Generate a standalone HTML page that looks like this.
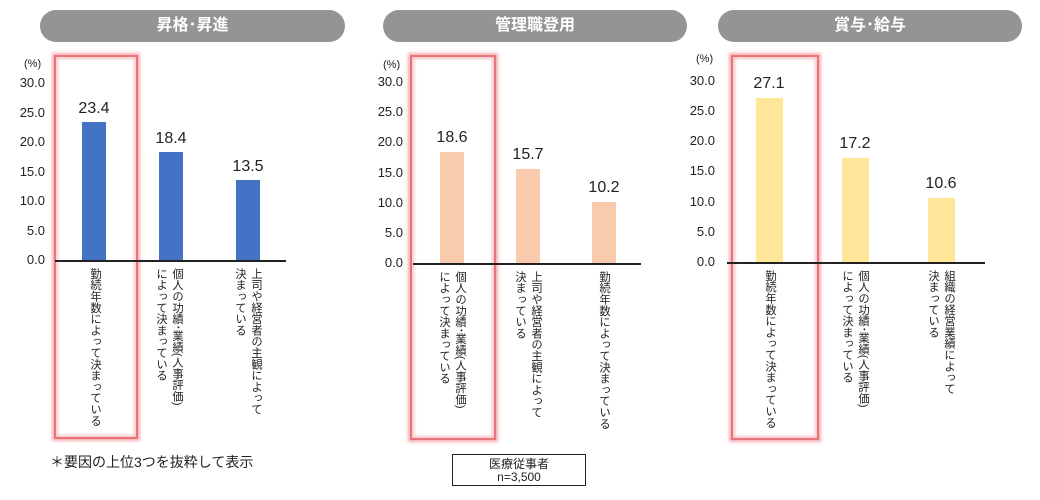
<!DOCTYPE html>
<html><head><meta charset="utf-8"><style>
body{margin:0;width:1040px;height:500px;background:#fff;position:relative;overflow:hidden;font-family:"Liberation Sans","Noto Sans CJK JP",sans-serif;color:#222}
.a{position:absolute}
.pill{position:absolute;height:32px;border-radius:16px;background:#949494;color:#fff;font-size:16px;font-weight:bold;text-align:center;line-height:32px}
.red{position:absolute;border:2px solid #e8737a;box-shadow:0 0 3px 2px rgba(240,140,145,.7),inset 0 0 3px 2px rgba(240,140,145,.5)}
.tk{position:absolute;font-size:13px;text-align:right;width:40px;line-height:14px}
.ax{position:absolute;height:2px;background:#222}
.bar{position:absolute}
.val{position:absolute;font-size:16px;width:60px;text-align:center}
.vt{position:absolute;writing-mode:vertical-rl;font-size:11.3px;line-height:16px;transform:translateX(-50%);white-space:nowrap}
</style></head><body>
<!-- Panel 1 -->
<div class="pill" style="left:40px;top:10px;width:305px">昇格･昇進</div>
<div class="red" style="left:54px;top:55px;width:80px;height:380px"></div>
<div class="a" style="left:24px;top:58px;font-size:11px">(%)</div>
<div class="tk" style="left:5px;top:76px">30.0</div>
<div class="tk" style="left:5px;top:106px">25.0</div>
<div class="tk" style="left:5px;top:135px">20.0</div>
<div class="tk" style="left:5px;top:165px">15.0</div>
<div class="tk" style="left:5px;top:194px">10.0</div>
<div class="tk" style="left:5px;top:224px">5.0</div>
<div class="tk" style="left:5px;top:253px">0.0</div>
<div class="bar" style="left:82px;top:122px;width:24px;height:138px;background:#4472c4"></div>
<div class="bar" style="left:159px;top:152px;width:24px;height:108px;background:#4472c4"></div>
<div class="bar" style="left:236px;top:180px;width:24px;height:80px;background:#4472c4"></div>
<div class="ax" style="left:55px;top:260px;width:231px"></div>
<div class="val" style="left:64px;top:100px">23.4</div>
<div class="val" style="left:141px;top:130px">18.4</div>
<div class="val" style="left:218px;top:158px">13.5</div>
<div class="vt" style="left:95px;top:268px">勤続年数によって決まっている</div>
<div class="vt" style="left:169px;top:268px">個人の功績･業績(人事評価)<br>によって決まっている</div>
<div class="vt" style="left:248px;top:268px">上司や経営者の主観によって<br>決まっている</div>
<div class="a" style="left:50px;top:452px;font-size:14px">＊要因の上位3つを抜粋して表示</div>
<!-- Panel 2 -->
<div class="pill" style="left:383px;top:10px;width:304px">管理職登用</div>
<div class="red" style="left:410px;top:55px;width:82px;height:381px"></div>
<div class="a" style="left:383px;top:59px;font-size:11px">(%)</div>
<div class="tk" style="left:363px;top:75px">30.0</div>
<div class="tk" style="left:363px;top:105px">25.0</div>
<div class="tk" style="left:363px;top:135px">20.0</div>
<div class="tk" style="left:363px;top:166px">15.0</div>
<div class="tk" style="left:363px;top:196px">10.0</div>
<div class="tk" style="left:363px;top:226px">5.0</div>
<div class="tk" style="left:363px;top:256px">0.0</div>
<div class="bar" style="left:440px;top:152px;width:24px;height:111px;background:#f8cbad"></div>
<div class="bar" style="left:516px;top:169px;width:24px;height:94px;background:#f8cbad"></div>
<div class="bar" style="left:592px;top:202px;width:24px;height:61px;background:#f8cbad"></div>
<div class="ax" style="left:413px;top:263px;width:228px"></div>
<div class="val" style="left:422px;top:129px">18.6</div>
<div class="val" style="left:498px;top:146px">15.7</div>
<div class="val" style="left:574px;top:179px">10.2</div>
<div class="vt" style="left:452px;top:271px">個人の功績･業績(人事評価)<br>によって決まっている</div>
<div class="vt" style="left:528px;top:271px">上司や経営者の主観によって<br>決まっている</div>
<div class="vt" style="left:604px;top:271px">勤続年数によって決まっている</div>
<div class="a" style="left:452px;top:454px;width:134px;height:32px;border:1px solid #222;font-size:12px;text-align:center;line-height:13px;padding-top:3px;box-sizing:border-box">医療従事者<br>n=3,500</div>
<!-- Panel 3 -->
<div class="pill" style="left:718px;top:10px;width:304px">賞与･給与</div>
<div class="red" style="left:731px;top:55px;width:84px;height:381px"></div>
<div class="a" style="left:696px;top:53px;font-size:11px">(%)</div>
<div class="tk" style="left:675px;top:74px">30.0</div>
<div class="tk" style="left:675px;top:104px">25.0</div>
<div class="tk" style="left:675px;top:134px">20.0</div>
<div class="tk" style="left:675px;top:164px">15.0</div>
<div class="tk" style="left:675px;top:195px">10.0</div>
<div class="tk" style="left:675px;top:225px">5.0</div>
<div class="tk" style="left:675px;top:255px">0.0</div>
<div class="bar" style="left:756px;top:98px;width:27px;height:164px;background:#ffe699"></div>
<div class="bar" style="left:842px;top:158px;width:27px;height:104px;background:#ffe699"></div>
<div class="bar" style="left:928px;top:198px;width:27px;height:64px;background:#ffe699"></div>
<div class="ax" style="left:727px;top:262px;width:258px"></div>
<div class="val" style="left:739px;top:75px">27.1</div>
<div class="val" style="left:825px;top:135px">17.2</div>
<div class="val" style="left:911px;top:175px">10.6</div>
<div class="vt" style="left:770px;top:270px">勤続年数によって決まっている</div>
<div class="vt" style="left:855px;top:270px">個人の功績･業績(人事評価)<br>によって決まっている</div>
<div class="vt" style="left:941px;top:270px">組織の経営業績によって<br>決まっている</div>
</body></html>
